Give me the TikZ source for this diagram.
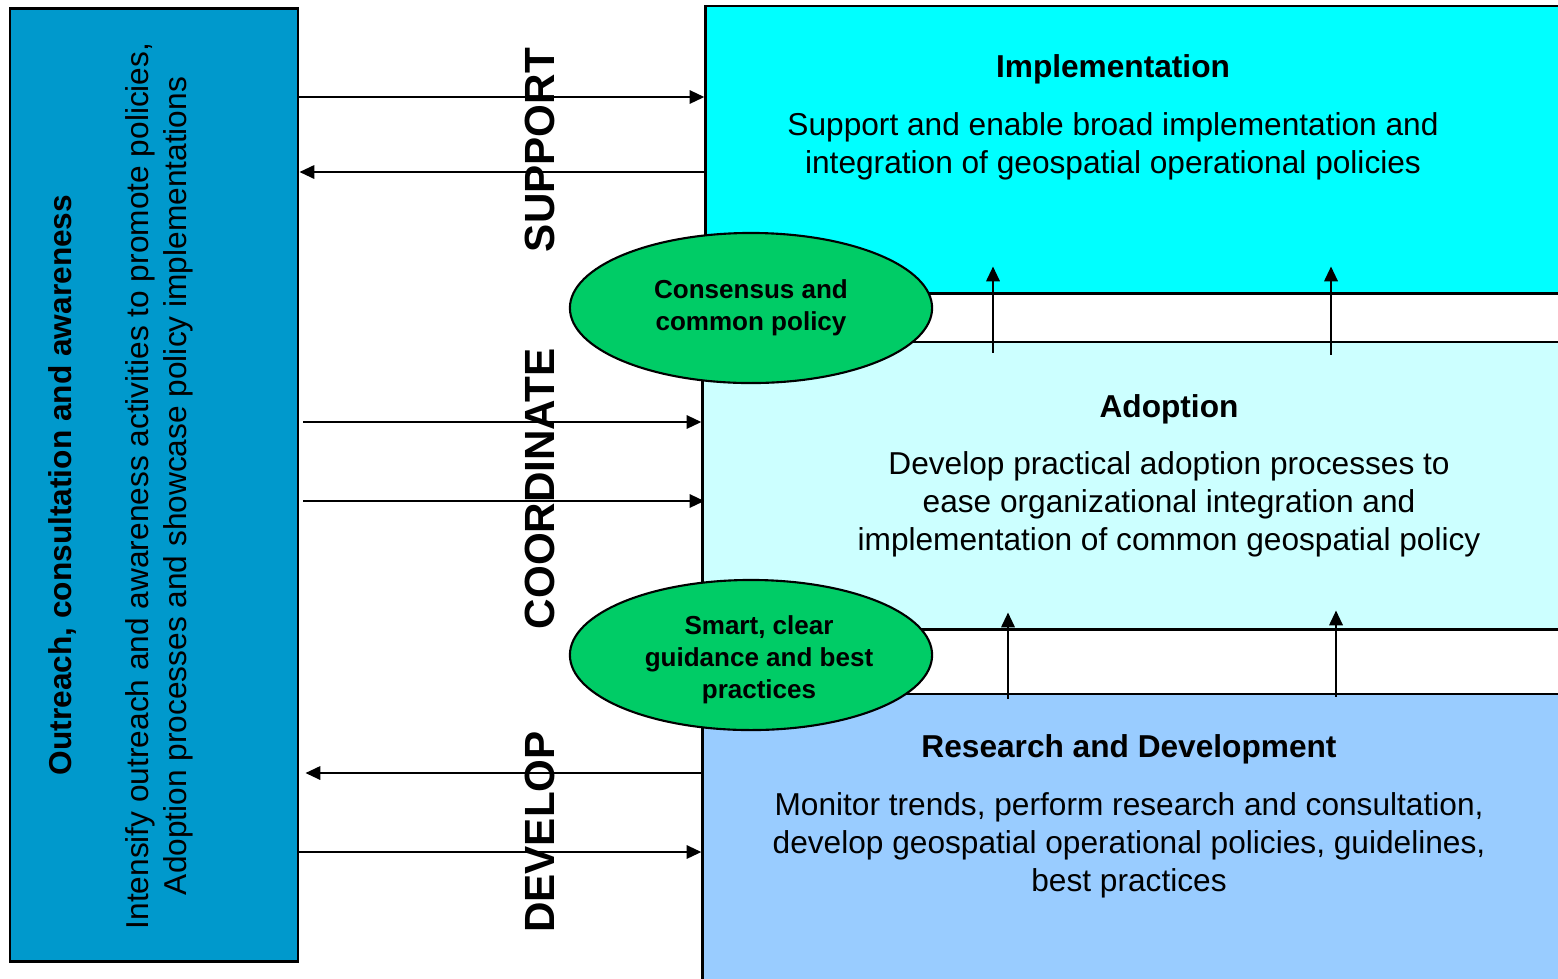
\documentclass[tikz,border=0pt]{standalone}
\usepackage{fontspec}
\setmainfont{Liberation Sans}
\usetikzlibrary{positioning, shapes.geometric, arrows.meta}

\definecolor{outblue}{HTML}{0099CC}
\definecolor{implcyan}{HTML}{00FFFF}
\definecolor{adoptcyan}{HTML}{CCFFFF}
\definecolor{rdblue}{HTML}{99CCFF}
\definecolor{ovalgreen}{HTML}{00CC66}

\begin{document}
\begin{tikzpicture}[
    x=0.01cm, y=-0.01cm,
    arr/.style={-{Triangle[length=4.2pt,width=3.8pt]}, line width=0.6pt},
    box/.style={draw, rectangle, line width=0.8pt, inner sep=0pt},
    oval/.style={draw, ellipse, fill=ovalgreen, line width=0.6pt, minimum width=3.62cm, minimum height=1.5cm, inner sep=0pt},
    ovaltext/.style={align=center, font=\fontsize{7.4}{9.1}\selectfont\bfseries},
    title/.style={font=\fontsize{9}{10.8}\selectfont\bfseries},
    body/.style={align=center, font=\fontsize{9}{10.8}\selectfont},
    stage/.style={rotate=90, font=\fontsize{12}{14}\selectfont\bfseries}
]
\useasboundingbox (0,0) rectangle (1558,978);
\clip (0,0) rectangle (1558,978);

%%%%% Boxes
\node[box, fill=outblue, minimum width=2.88cm, minimum height=9.52cm] (outreach) at (154,485) {};
\node[box, fill=implcyan, minimum width=9.00cm, minimum height=2.87cm] (impl) at (1156,149.5) {};
\node[box, fill=adoptcyan, minimum width=9.00cm, minimum height=2.87cm] (adopt) at (1153,485.5) {};
\node[box, fill=rdblue, minimum width=9.00cm, minimum height=3.20cm] (rd) at (1153,854) {};

%  Box texts
\node[title] (impltitle) at (1113,69) {Implementation};
\node[body]  (impltext)  at (1113,146) {Support and enable broad implementation and\\integration of geospatial operational policies};

\node[title] (adopttitle) at (1169,409) {Adoption};
\node[body]  (adopttext)  at (1169,504) {Develop practical adoption processes to\\ease organizational integration and\\implementation of common geospatial policy};

\node[title] (rdtitle) at (1129,749) {Research and Development};
\node[body]  (rdtext)  at (1129,845) {Monitor trends, perform research and consultation,\\develop geospatial operational policies, guidelines,\\best practices};

\node[title, rotate=90] (outtitle) at (62,485) {Outreach, consultation and awareness};
\node[body, rotate=90]  (outtext)  at (159,486) {Intensify outreach and awareness activities to promote policies,\\Adoption processes and showcase policy implementations};

%  Horizontal arrows
\draw[arr] (outreach.east |- 0,97) -- (impl.west |- 0,97);
\draw[arr] (impl.west |- 0,172) -- (outreach.east |- 0,172);

\draw[arr] ([xshift=0.04cm]outreach.east |- 0,422) -- (adopt.west |- 0,422);
\draw[arr] ([xshift=0.04cm]outreach.east |- 0,501) -- ([xshift=0.03cm]adopt.west |- 0,501);

\draw[arr] (rd.west |- 0,773) -- ([xshift=0.06cm]outreach.east |- 0,773);
\draw[arr] (outreach.east |- 0,852) -- (rd.west |- 0,852);

%  Vertical arrows
\draw[arr] ([yshift=-0.12cm]adopt.north -| 993,0) -- ([yshift=0.28cm]impl.south -| 993,0);
\draw[arr] ([yshift=-0.14cm]adopt.north -| 1331,0) -- ([yshift=0.28cm]impl.south -| 1331,0);
\draw[arr] ([yshift=-0.06cm]rd.north -| 1008,0) -- ([yshift=0.18cm]adopt.south -| 1008,0);
\draw[arr] ([yshift=-0.04cm]rd.north -| 1336,0) -- ([yshift=0.20cm]adopt.south -| 1336,0);

%  Stage labels
\node[stage] (support)    at (540,150) {SUPPORT};
\node[stage] (coordinate) at (540,489) {COORDINATE};
\node[stage] (develop)    at (540,832) {DEVELOP};

%  Ovals
\node[oval] (consensus) at (751,308) {};
\node[ovaltext] (consensustext) at (751,308) {Consensus and\\common policy};
\node[oval] (guidance)  at (751,655) {};
\node[ovaltext] (guidancetext) at (759,660) {Smart, clear\\guidance and best\\practices};

\end{tikzpicture}
\end{document}
